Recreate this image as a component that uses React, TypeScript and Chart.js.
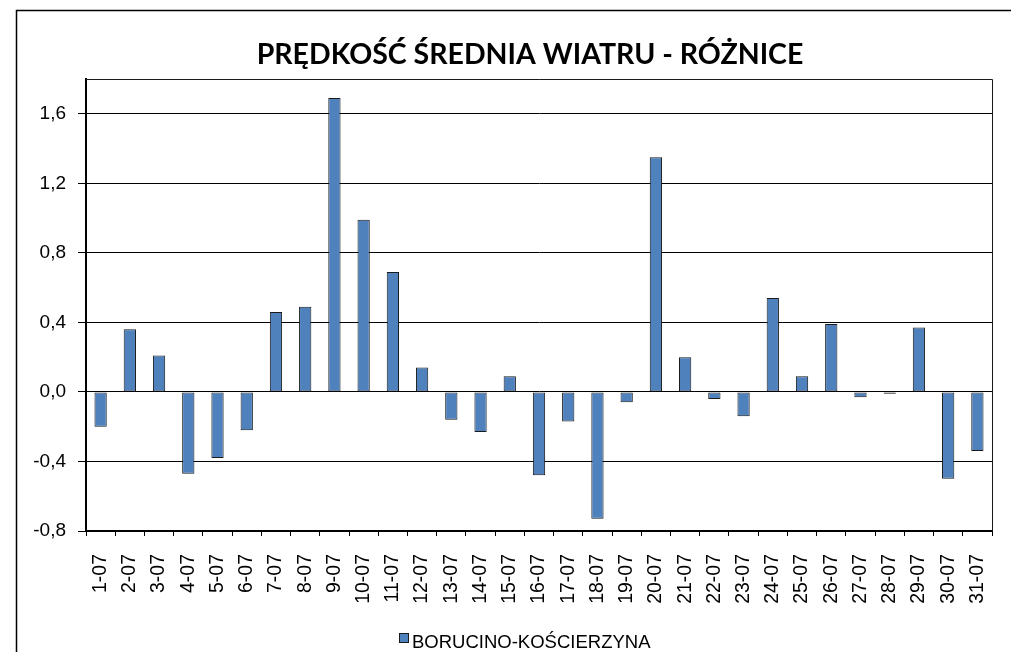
import React, { useEffect, useRef } from "react";
import { Chart, registerables } from "chart.js";

Chart.register(...registerables);

const categories = [
  "1-07", "2-07", "3-07", "4-07", "5-07", "6-07", "7-07", "8-07", "9-07", "10-07",
  "11-07", "12-07", "13-07", "14-07", "15-07", "16-07", "17-07", "18-07", "19-07", "20-07",
  "21-07", "22-07", "23-07", "24-07", "25-07", "26-07", "27-07", "28-07", "29-07", "30-07", "31-07",
];

const seriesLabel = "BORUCINO-KOŚCIERZYNA";
const seriesValues = [
  -0.2, 0.36, 0.21, -0.47, -0.38, -0.22, 0.46, 0.49, 1.69, 0.99,
  0.69, 0.14, -0.16, -0.23, 0.09, -0.48, -0.17, -0.73, -0.06, 1.35,
  0.2, -0.04, -0.14, 0.54, 0.09, 0.39, -0.03, -0.01, 0.37, -0.5, -0.34,
];

const yTicks = [-0.8, -0.4, 0.0, 0.4, 0.8, 1.2, 1.6];
const yMin = -0.8;
const yMax = 1.8;

const titleText = "PRĘDKOŚĆ ŚREDNIA WIATRU - RÓŻNICE";

const W = 1011;
const H = 652;
const FONT = "'Liberation Sans', Arial, sans-serif";

const decorPlugin = {
  id: "decor",
  beforeDraw(chart: any) {
    const ctx = chart.ctx;
    ctx.save();
    ctx.fillStyle = "#ffffff";
    ctx.fillRect(0, 0, chart.width, chart.height);
    ctx.restore();
  },
  afterDraw(chart: any) {
    const ctx = chart.ctx;
    const a = chart.chartArea;
    ctx.save();
    // outer frame
    ctx.strokeStyle = "#000000";
    ctx.lineWidth = 1.5;
    ctx.strokeRect(16.5, 10.5, W + 20, H + 20);
    // plot area top & right border
    ctx.lineWidth = 1;
    ctx.strokeStyle = "#1a1a1a";
    ctx.beginPath();
    ctx.moveTo(a.left, Math.round(a.top) + 0.5);
    ctx.lineTo(Math.round(a.right) + 0.5, Math.round(a.top) + 0.5);
    ctx.lineTo(Math.round(a.right) + 0.5, a.bottom);
    ctx.stroke();
    // title
    ctx.fillStyle = "#000000";
    ctx.font = "bold 28.5px Lato, 'Open Sans', sans-serif";
    ctx.textAlign = "center";
    ctx.textBaseline = "alphabetic";
    ctx.fillText(titleText, 530, 64);
    // legend
    const ds = chart.data.datasets[0];
    ctx.fillStyle = ds.backgroundColor;
    ctx.fillRect(399, 633, 9, 9);
    ctx.strokeStyle = "#1a1a1a";
    ctx.lineWidth = 1;
    ctx.strokeRect(399.5, 633.5, 9, 9);
    ctx.fillStyle = "#000000";
    ctx.font = `18.5px ${FONT}`;
    ctx.textAlign = "left";
    ctx.fillText(ds.label, 412, 648);
    ctx.restore();
  },
};

export default function App() {
  const ref = useRef<HTMLCanvasElement | null>(null);

  useEffect(() => {
    if (!ref.current) return;
    const chart = new Chart(ref.current, {
      type: "bar",
      data: {
        labels: categories,
        datasets: [
          {
            label: seriesLabel,
            data: seriesValues,
            backgroundColor: "#4f81bd",
            borderColor: "#1a1a1a",
            borderWidth: 1,
            borderSkipped: false,
            barPercentage: 0.42,
            categoryPercentage: 1.0,
          },
        ],
      },
      options: {
        responsive: false,
        animation: false,
        devicePixelRatio: 1,
        layout: { padding: { left: 0, top: 79, right: 19, bottom: 0 } },
        plugins: {
          legend: { display: false },
          title: { display: false },
          tooltip: { enabled: false },
        },
        scales: {
          x: {
            type: "category",
            offset: true,
            grid: {
              offset: true,
              drawOnChartArea: false,
              drawTicks: true,
              tickLength: 5,
              color: "#000000",
              lineWidth: 1,
            },
            border: { display: true, color: "#000000", width: 2 },
            ticks: {
              minRotation: 90,
              maxRotation: 90,
              autoSkip: false,
              padding: 18,
              color: "#000000",
              font: { family: FONT, size: 19.5 },
            },
            afterFit: (s: any) => {
              s.height = 121;
              s.paddingLeft = 0;
              s.paddingRight = 0;
            },
          },
          y: {
            min: yMin,
            max: yMax,
            afterBuildTicks: (s: any) => {
              s.ticks = yTicks.map((v) => ({ value: v }));
            },
            grid: {
              drawOnChartArea: true,
              drawTicks: true,
              tickLength: 8,
              color: "#000000",
              lineWidth: 1,
            },
            border: { display: true, color: "#000000", width: 2 },
            ticks: {
              padding: 12,
              color: "#000000",
              font: { family: FONT, size: 19 },
              callback: (v: any) => Number(v).toFixed(1).replace(".", ","),
            },
            afterFit: (s: any) => {
              s.width = 86;
              s.paddingTop = 0;
              s.paddingBottom = 0;
            },
          },
        },
      },
      plugins: [decorPlugin],
    });
    return () => chart.destroy();
  }, []);

  return (
    <div style={{ position: "absolute", left: 0, top: 0, width: W, height: H }}>
      <canvas ref={ref} width={W} height={H} style={{ display: "block", width: W, height: H }} />
    </div>
  );
}
